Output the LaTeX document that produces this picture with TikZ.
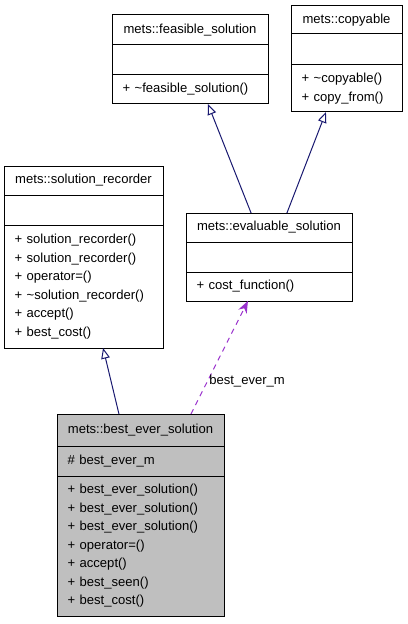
\documentclass[tikz,border=0pt]{standalone}
\usepackage{fontspec}
\setmainfont{Liberation Sans}
\usetikzlibrary{positioning,calc,arrows.meta}
\definecolor{edgeblue}{HTML}{191970}
\definecolor{usepurple}{HTML}{9A32CD}
\definecolor{boxgray}{HTML}{BFBFBF}
\tikzset{
  part/.style={draw=black,line width=0.75pt,rectangle,inner xsep=8pt,inner ysep=0pt,outer sep=0pt,fill=white},
  title/.style={part,align=center},
  members/.style={part,align=left},
  inherit/.style={draw=edgeblue,line width=0.75pt,-{Triangle[open,length=8pt,width=6.5pt]}},
  uses/.style={draw=usepurple,line width=0.75pt,dash pattern=on 4pt off 3.5pt,-{Stealth[length=9pt,width=7pt]}}
}
\begin{document}
\begin{tikzpicture}[x=0.75pt,y=-0.75pt,font=\fontsize{9.8}{13.9}\selectfont]
  \useasboundingbox (0,0) rectangle (407,624);

  % mets::feasible_solution
  \node[title,anchor=north west,minimum width=117pt,text width=101pt,minimum height=22.5pt] (feasT) at (112,15) {mets::feasible\_solution};
  \node[part,below=0pt of feasT,minimum width=117pt,text width=101pt,minimum height=22.5pt] (feasA) {};
  \node[members,below=0pt of feasA,minimum width=117pt,text width=101pt,minimum height=21.75pt] (feasM) {+ \textasciitilde feasible\_solution()};

  % mets::copyable
  \node[title,anchor=north west,minimum width=83.25pt,text width=67.25pt,minimum height=21pt] (copyT) at (291,6) {mets::copyable};
  \node[part,below=0pt of copyT,minimum width=83.25pt,text width=67.25pt,minimum height=23.25pt] (copyA) {};
  \node[members,below=0pt of copyA,minimum width=83.25pt,text width=67.25pt,minimum height=35.25pt] (copyM) {+ \textasciitilde copyable()\\+ copy\_from()};

  % mets::solution_recorder
  \node[title,anchor=north west,minimum width=119.25pt,text width=103.25pt,minimum height=21.75pt] (recT) at (4,166) {mets::solution\_recorder};
  \node[part,below=0pt of recT,minimum width=119.25pt,text width=103.25pt,minimum height=22.5pt] (recA) {};
  \node[members,below=0pt of recA,minimum width=119.25pt,text width=103.25pt,minimum height=92.25pt] (recM) {+ solution\_recorder()\\+ solution\_recorder()\\+ operator=()\\+ \textasciitilde solution\_recorder()\\+ accept()\\+ best\_cost()};

  % mets::evaluable_solution
  \node[title,anchor=north west,minimum width=124.5pt,text width=108.5pt,minimum height=21.75pt] (evalT) at (186,213) {mets::evaluable\_solution};
  \node[part,below=0pt of evalT,minimum width=124.5pt,text width=108.5pt,minimum height=22.5pt] (evalA) {};
  \node[members,below=0pt of evalA,minimum width=124.5pt,text width=108.5pt,minimum height=21.75pt] (evalM) {+ cost\_function()};

  % mets::best_ever_solution
  \node[title,fill=boxgray,anchor=north west,minimum width=125.25pt,text width=109.25pt,minimum height=24pt] (bestT) at (57,414) {mets::best\_ever\_solution};
  \node[members,fill=boxgray,below=0pt of bestT,minimum width=125.25pt,text width=109.25pt,minimum height=22.5pt] (bestA) {\# best\_ever\_m};
  \node[members,fill=boxgray,below=0pt of bestA,minimum width=125.25pt,text width=109.25pt,minimum height=105pt] (bestM) {+ best\_ever\_solution()\\+ best\_ever\_solution()\\+ best\_ever\_solution()\\+ operator=()\\+ accept()\\+ best\_seen()\\+ best\_cost()};

  % generalisations
  \draw[inherit] ($(bestT.north west)!0.371!(bestT.north east)$) -- ($(recM.south west)!0.623!(recM.south east)$);
  \draw[inherit] ($(evalT.north west)!0.392!(evalT.north east)$) -- ($(feasM.south west)!0.615!(feasM.south east)$);
  \draw[inherit] ($(evalT.north west)!0.608!(evalT.north east)$) -- ($(copyM.south west)!0.315!(copyM.south east)$);

  % usage
  \draw[uses] ($(bestT.north west)!0.802!(bestT.north east)$) -- node[pos=0.29,anchor=west,inner sep=1pt,text=black] (useLbl) {best\_ever\_m} ($(evalM.south west)!0.373!(evalM.south east)$);
\end{tikzpicture}
\end{document}
